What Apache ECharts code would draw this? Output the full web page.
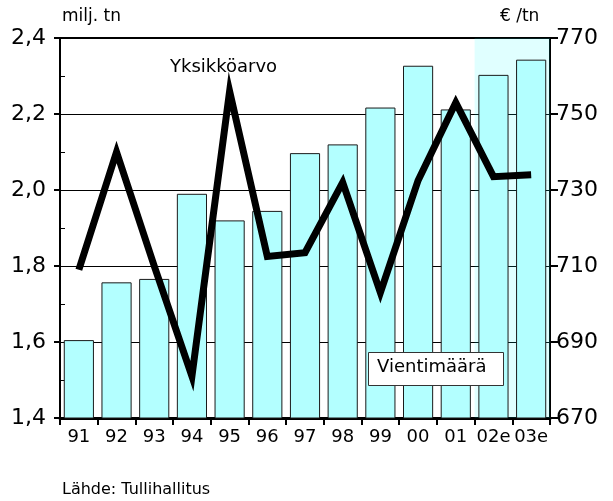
<!DOCTYPE html>
<html><head><meta charset="utf-8">
<script src="https://cdn.jsdelivr.net/npm/echarts@6/dist/echarts.min.js"></script>
<style>html,body{margin:0;padding:0;background:#fff}#c{width:613px;height:501px}</style>
</head><body><div id="c"></div>
<script>
const categories = ['91','92','93','94','95','96','97','98','99','00','01','02e','03e'];
const volume = [1.605,1.757,1.766,1.99,1.92,1.945,2.097,2.12,2.217,2.327,2.212,2.303,2.343];
const unitValue = [709,740,710,681,756,712.5,713.5,732,703,732.5,753,733.5,734];
const forecastStart = '02e';
const leftTicks = [1.4,2.4,0.2];
const rightTicks = [670,770,20];

const FONT = 'DejaVu Sans';
const chart = echarts.init(document.getElementById('c'));
const fIdx = categories.indexOf(forecastStart);
chart.setOption({
  animation:false,
  grid:{left:60,right:63,top:38,bottom:83},
  xAxis:[{
    type:'category',data:categories,boundaryGap:true,
    axisLine:{lineStyle:{color:'#000',width:3}},
    axisTick:{show:true,interval:0,length:7,lineStyle:{color:'#000',width:2}},
    axisLabel:{interval:0,color:'#000',fontFamily:FONT,fontSize:18,margin:10},
    splitLine:{show:false}
  },{
    type:'value',min:0,max:categories.length,position:'top',
    axisLine:{show:true,onZero:false,lineStyle:{color:'#000',width:2}},
    axisTick:{show:false},axisLabel:{show:false},splitLine:{show:false}
  }],
  yAxis:[{
    type:'value',min:leftTicks[0],max:leftTicks[1],interval:leftTicks[2],position:'left',
    axisLine:{show:true,lineStyle:{color:'#000',width:2}},
    axisTick:{show:true,length:6,lineStyle:{color:'#000',width:2}},
    axisLabel:{color:'#000',fontFamily:FONT,fontSize:22,margin:14,formatter:v=>v.toFixed(1).replace('.',',')},
    splitLine:{show:true,lineStyle:{color:'#000',width:1}}
  },{
    type:'value',min:rightTicks[0],max:rightTicks[1],interval:rightTicks[2],position:'right',
    axisLine:{show:true,lineStyle:{color:'#000',width:2}},
    axisTick:{show:true,length:8,lineStyle:{color:'#000',width:2}},
    axisLabel:{color:'#000',fontFamily:FONT,fontSize:22,margin:6},
    splitLine:{show:false}
  },{
    type:'value',min:leftTicks[0],max:leftTicks[1],interval:leftTicks[2]/2,position:'left',
    axisLine:{show:false},
    axisTick:{show:true,inside:true,length:5,lineStyle:{color:'#000',width:1}},
    axisLabel:{show:false},splitLine:{show:false}
  }],
  series:[{
    type:'line',xAxisIndex:1,yAxisIndex:0,z:1,
    data:[[fIdx,leftTicks[0]],[categories.length,leftTicks[0]]],
    symbol:'none',lineStyle:{opacity:0},silent:true,
    markArea:{silent:true,itemStyle:{color:'rgba(0,255,255,0.12)'},data:[[{xAxis:fIdx},{xAxis:categories.length}]]}
  },{
    type:'bar',data:volume,xAxisIndex:0,yAxisIndex:0,z:2,
    barCategoryGap:'20%',
    itemStyle:{color:'#b3ffff',borderColor:'#1a1a1a',borderWidth:1}
  },{
    type:'line',data:unitValue,xAxisIndex:0,yAxisIndex:1,z:3,
    symbol:'none',lineStyle:{color:'#000',width:7,join:'miter'}
  }],
  graphic:[
    {type:'text',left:62,top:8,style:{text:'milj. tn',font:'17px "DejaVu Sans"',fill:'#000'}},
    {type:'text',left:500,top:8,style:{text:'€ /tn',font:'17px "DejaVu Sans"',fill:'#000'}},
    {type:'text',left:170,top:58,style:{text:'Yksikköarvo',font:'18px "DejaVu Sans"',fill:'#000'}},
    {type:'rect',left:368,top:352,shape:{width:135,height:33},style:{fill:'#fff',stroke:'#333',lineWidth:1},z:10},
    {type:'text',left:377,top:358,style:{text:'Vientimäärä',font:'18px "DejaVu Sans"',fill:'#000'},z:11},
    {type:'text',left:62,top:482,style:{text:'Lähde: Tullihallitus',font:'16px "DejaVu Sans"',fill:'#000'}}
  ]
});
</script></body></html>
